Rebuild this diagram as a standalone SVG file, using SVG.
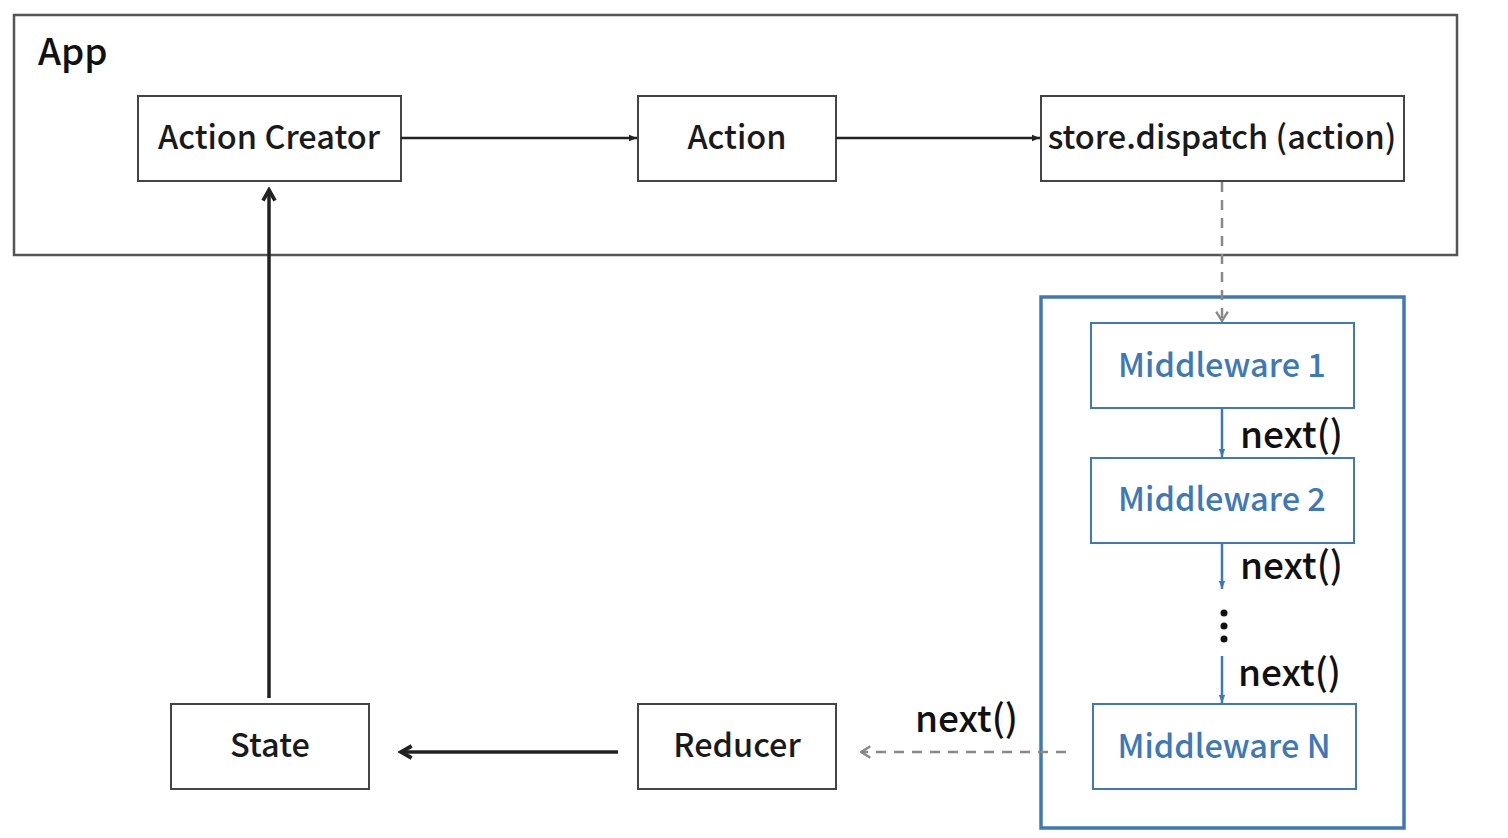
<svg xmlns="http://www.w3.org/2000/svg" width="1508" height="838" viewBox="0 0 1508 838">
<style>
.box{fill:#fff;stroke:#444;stroke-width:2}
.bbox{fill:#fff;stroke:#3f79b5;stroke-width:2}
.t{font-family:"Noto Sans CJK KR","Noto Sans",sans-serif;font-size:32.5px;font-weight:500;fill:#1a1a1a;text-anchor:middle}
.bt{font-family:"Noto Sans CJK KR","Noto Sans",sans-serif;font-size:32.5px;font-weight:500;fill:#3f79b5;text-anchor:middle}
.lbl{font-family:"Noto Sans CJK KR","Noto Sans",sans-serif;font-size:37px;font-weight:500;fill:#111}
.solid{stroke:#222;stroke-width:2.5;fill:none}
.thick{stroke:#222;stroke-width:3.5;fill:none}
.dash{stroke:#888;stroke-width:2.5;fill:none;stroke-dasharray:10 8}
.blue{stroke:#3f79b5;stroke-width:2.5;fill:none}
</style>
<defs>
<marker id="dot" viewBox="0 0 10 10" refX="10" refY="5" markerWidth="8" markerHeight="8" orient="auto" markerUnits="userSpaceOnUse">
<path d="M0,1 L10,5 L0,9 z" fill="#222"/>
</marker>
<marker id="bhead" viewBox="0 0 10 10" refX="10" refY="5" markerWidth="8" markerHeight="8" orient="auto" markerUnits="userSpaceOnUse">
<path d="M0,1 L10,5 L0,9 z" fill="#3f79b5"/>
</marker>
<marker id="head" viewBox="0 0 12 12" refX="10" refY="6" markerWidth="16" markerHeight="16" orient="auto" markerUnits="userSpaceOnUse">
<path d="M2,1.5 L10,6 L2,10.5" fill="none" stroke="#222" stroke-width="2.8"/>
</marker>
<marker id="open" viewBox="0 0 12 12" refX="11" refY="6" markerWidth="14" markerHeight="14" orient="auto" markerUnits="userSpaceOnUse">
<path d="M3,1 L11,6 L3,11" fill="none" stroke="#888" stroke-width="2"/>
</marker>
</defs>
<rect width="1508" height="838" fill="#fff"/>
<g id="app">
<rect x="14" y="15" width="1443" height="240" fill="#fff" stroke="#555" stroke-width="2.5"/>
<text x="38" y="65" class="lbl">App</text>
</g>
<g id="middleware-group">
<rect x="1041" y="297" width="363" height="531" fill="#fff" stroke="#3f79b5" stroke-width="3.5"/>
</g>
<g id="action-creator"><rect class="box" x="138" y="96" width="263" height="85"/><text class="t" x="269" y="149">Action Creator</text></g>
<g id="action"><rect class="box" x="638" y="96" width="198" height="85"/><text class="t" x="737" y="149">Action</text></g>
<g id="dispatch"><rect class="box" x="1041" y="96" width="363" height="85"/><text class="t" x="1222" y="149">store.dispatch (action)</text></g>
<g id="mw1"><rect class="bbox" x="1091" y="323" width="263" height="85"/><text class="bt" x="1222" y="377">Middleware 1</text></g>
<g id="mw2"><rect class="bbox" x="1091" y="458" width="263" height="85"/><text class="bt" x="1222" y="511">Middleware 2</text></g>
<g id="mwn"><rect class="bbox" x="1093" y="704" width="263" height="85"/><text class="bt" x="1224" y="758">Middleware N</text></g>
<g id="reducer"><rect class="box" x="638" y="704" width="198" height="85"/><text class="t" x="737" y="757">Reducer</text></g>
<g id="state"><rect class="box" x="171" y="704" width="198" height="85"/><text class="t" x="270" y="757">State</text></g>
<g id="connectors">
<line class="solid" x1="401" y1="138" x2="637" y2="138" marker-end="url(#dot)"/>
<line class="solid" x1="836" y1="138" x2="1040" y2="138" marker-end="url(#dot)"/>
<line class="dash" x1="1222" y1="182" x2="1222" y2="321" marker-end="url(#open)"/>
<line class="blue" x1="1222" y1="408" x2="1222" y2="457" marker-end="url(#bhead)"/>
<line class="blue" x1="1222" y1="543" x2="1222" y2="589" marker-end="url(#bhead)"/>
<line class="blue" x1="1222" y1="656" x2="1222" y2="703" marker-end="url(#bhead)"/>
<line class="dash" x1="1066" y1="752" x2="861" y2="752" marker-end="url(#open)"/>
<line class="thick" x1="618" y1="752" x2="401" y2="752" marker-end="url(#head)"/>
<line class="thick" x1="269" y1="698" x2="269" y2="190" marker-end="url(#head)"/>
</g>
<g id="labels">
<text class="lbl" x="1240" y="448">next()</text>
<text class="lbl" x="1240" y="579">next()</text>
<text class="lbl" x="1238" y="686">next()</text>
<text class="lbl" x="915" y="732">next()</text>
<circle cx="1224" cy="613" r="3.5" fill="#111"/>
<circle cx="1224" cy="626" r="3.5" fill="#111"/>
<circle cx="1224" cy="639" r="3.5" fill="#111"/>
</g>
</svg>
